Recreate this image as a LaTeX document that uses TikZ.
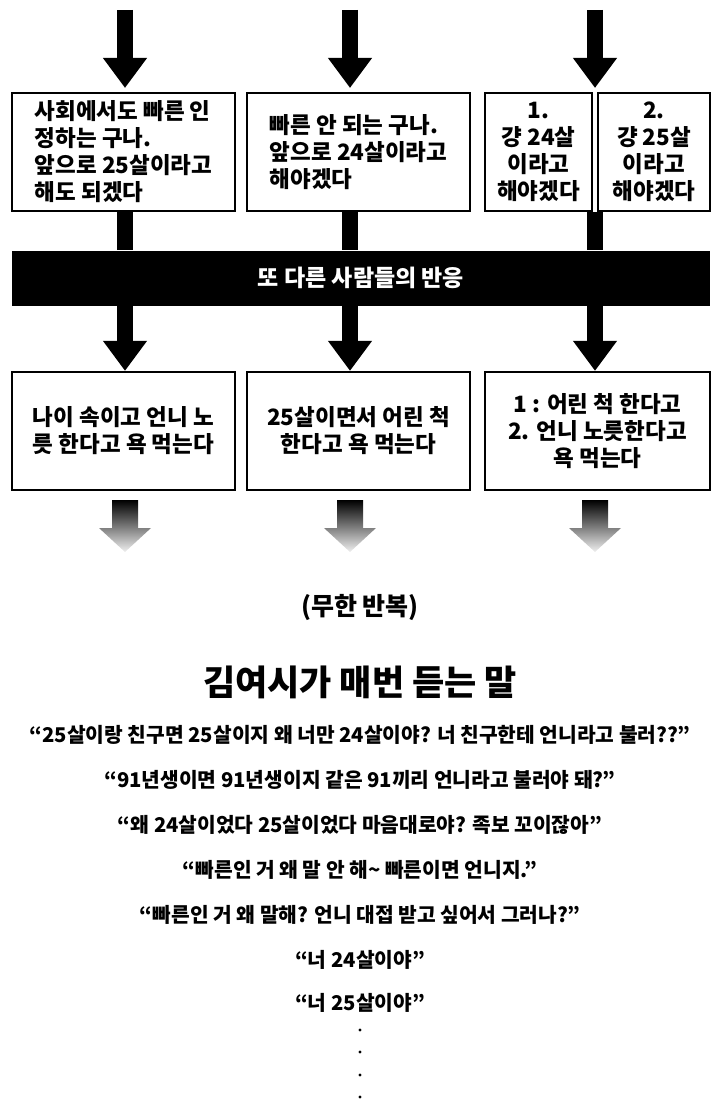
\documentclass[tikz,border=0pt]{standalone}
\usepackage{fontspec}
\setmainfont{Noto Sans CJK KR}
\usetikzlibrary{arrows.meta, positioning, calc}

\begin{document}
\begin{tikzpicture}[x=1pt, y=-1pt,
    box/.style={rectangle, draw, line width=2.2pt, minimum height=118pt, inner sep=0pt, font=\fontsize{22.5}{27}\selectfont\bfseries, align=center},
    fat/.style={line width=16pt, -{Triangle[width=42pt, length=30pt]}},
    shaft/.style={line width=16pt},
    fade/.style={top color=black, bottom color=gray!12},
    quote/.style={font=\fontsize{20.3}{22}\selectfont\bfseries}
]
    \useasboundingbox (0,0) rectangle (720,1108);
    % top arrows
    \foreach \x/\n in {125/a, 350/b, 595/c} {
        \coordinate (top\n) at (\x,10);
        \coordinate (in\n) at (\x,88);
    }
    \draw[fat] (topa) -- (ina);
    \draw[fat] (topb) -- (inb);
    \draw[fat] (topc) -- (inc);

    % first row
    \node[box, minimum width=223pt, align=left] (say1) at (123.5,152) {사회에서도 빠른 인\\정하는 구나.\\앞으로 25살이라고\\해도 되겠다};
    \node[box, minimum width=223pt, align=left] (say2) at (358.5,152) {빠른 안 되는 구나.\\앞으로 24살이라고\\해야겠다};
    \node[box, minimum width=107pt] (say3a) at (538.5,152) {1.\\걍 24살\\이라고\\해야겠다};
    \node[box, minimum width=112pt] (say3b) at (654,152) {2.\\걍 25살\\이라고\\해야겠다};

    % band
    \node[rectangle, fill=black, minimum width=698pt, minimum height=55pt, text=white, font=\fontsize{23}{25}\selectfont\bfseries] (react) at (361,278) {또 다른 사람들의 반응};
    \draw[shaft] (say1.south -| ina) -- (react.north -| ina);
    \draw[shaft] (say2.south -| inb) -- (react.north -| inb);
    \draw[shaft] (say3a.south -| inc) -- (react.north -| inc);

    % second row
    \node[box, minimum width=223pt] (res1) at (123.5,431) {나이 속이고 언니 노\\릇 한다고 욕 먹는다};
    \node[box, minimum width=223pt] (res2) at (358.5,431) {25살이면서 어린 척\\한다고 욕 먹는다};
    \node[box, minimum width=225pt] (res3) at (597.5,431) {1 : 어린 척 한다고\\2. 언니 노릇한다고\\욕 먹는다};
    \draw[fat] (react.south -| ina) -- (res1.north -| ina);
    \draw[fat] (react.south -| inb) -- (res2.north -| inb);
    \draw[fat] (react.south -| inc) -- (res3.north -| inc);

    % fading arrows
    \foreach \x in {125, 350, 595}
        \shade[fade] (\x-13,500) -- (\x+13,500) -- (\x+13,528) -- (\x+26,528) -- (\x,552) -- (\x-26,528) -- (\x-13,528) -- cycle;

    % text below
    \node[font=\fontsize{25}{27}\selectfont\bfseries] (loop) at (360,607) {(무한 반복)};
    \node[font=\fontsize{35}{37}\selectfont\bfseries] (title) at (360,682) {김여시가 매번 듣는 말};
    \node[quote] (q1) at (360,735) {“25살이랑 친구면 25살이지 왜 너만 24살이야? 너 친구한테 언니라고 불러??”};
    \node[quote] (q2) at (360,780) {“91년생이면 91년생이지 같은 91끼리 언니라고 불러야 돼?”};
    \node[quote] (q3) at (360,825) {“왜 24살이었다 25살이었다 마음대로야? 족보 꼬이잖아”};
    \node[quote] (q4) at (360,870) {“빠른인 거 왜 말 안 해\textasciitilde{} 빠른이면 언니지.”};
    \node[quote] (q5) at (360,915) {“빠른인 거 왜 말해? 언니 대접 받고 싶어서 그러나?”};
    \node[quote] (q6) at (360,960) {“너 24살이야”};
    \node[quote] (q7) at (360,1003) {“너 25살이야”};
    \foreach \y in {1030,1052,1075,1097}
        \fill (360,\y) circle (1.6pt);
\end{tikzpicture}
\end{document}
